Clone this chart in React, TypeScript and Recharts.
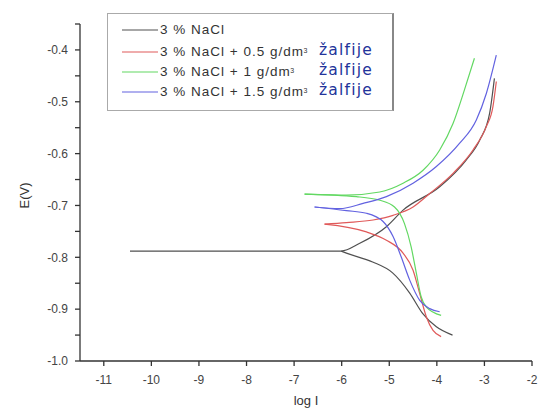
import React from 'react';
import { LineChart, Line, XAxis, YAxis } from 'recharts';

type Pt = [number, number];

// log I , E(V)
const naclAnodic: Pt[] = [
  [-10.45, -0.788], [-8.0, -0.788], [-6.01, -0.788], [-5.62, -0.773], [-5.06, -0.741],
  [-4.71, -0.709], [-3.94, -0.664], [-3.38, -0.612], [-3.1, -0.574], [-2.89, -0.522], [-2.79, -0.455],
];
const naclCathodic: Pt[] = [
  [-6.01, -0.788], [-5.9, -0.792], [-5.35, -0.809], [-4.93, -0.83], [-4.57, -0.869],
  [-4.3, -0.908], [-4.01, -0.934], [-3.67, -0.95],
];
const sage05Anodic: Pt[] = [
  [-6.36, -0.736], [-5.9, -0.733], [-5.34, -0.728], [-4.92, -0.719], [-4.5, -0.703], [-4.15, -0.677],
  [-3.66, -0.638], [-3.24, -0.593], [-2.96, -0.548], [-2.82, -0.509], [-2.75, -0.461],
];
const sage05Cathodic: Pt[] = [
  [-6.36, -0.736], [-5.48, -0.751], [-5.06, -0.767], [-4.71, -0.792], [-4.5, -0.825],
  [-4.36, -0.87], [-4.22, -0.915], [-4.08, -0.941], [-3.91, -0.953],
];
const sage1Anodic: Pt[] = [
  [-6.78, -0.678], [-5.9, -0.68], [-5.2, -0.674], [-4.71, -0.657], [-4.29, -0.632],
  [-3.94, -0.593], [-3.66, -0.542], [-3.42, -0.477], [-3.21, -0.416],
];
const sage1Cathodic: Pt[] = [
  [-6.78, -0.678], [-5.69, -0.683], [-5.2, -0.69], [-4.89, -0.703], [-4.68, -0.735],
  [-4.54, -0.78], [-4.43, -0.831], [-4.33, -0.876], [-4.22, -0.896], [-3.91, -0.912],
];
const sage15Anodic: Pt[] = [
  [-6.57, -0.703], [-6.04, -0.706], [-5.55, -0.696], [-5.06, -0.683], [-4.5, -0.657],
  [-4.01, -0.625], [-3.52, -0.58], [-3.17, -0.535], [-2.96, -0.484], [-2.75, -0.41],
];
const sage15Cathodic: Pt[] = [
  [-6.57, -0.703], [-5.9, -0.71], [-5.48, -0.715], [-5.13, -0.731], [-4.92, -0.76],
  [-4.75, -0.799], [-4.57, -0.844], [-4.36, -0.883], [-4.15, -0.899], [-3.94, -0.905],
];

const xTicks = [-11, -10.5, -10, -9.5, -9, -8.5, -8, -7.5, -7, -6.5, -6, -5.5, -5, -4.5, -4, -3.5, -3, -2.5, -2];
const yTicks = [-1.0, -0.95, -0.9, -0.85, -0.8, -0.75, -0.7, -0.65, -0.6, -0.55, -0.5, -0.45, -0.4, -0.35];

const legendLabels = ['3 % NaCl', '3 % NaCl + 0.5 g/dm', '3 % NaCl + 1 g/dm', '3 % NaCl + 1.5 g/dm'];
const legendSup = ['', '3', '3', '3'];
const legendSuffix = ['', 'žalfije', 'žalfije', 'žalfije'];
const colors = ['#505050', '#e05a5a', '#62d862', '#6262e0'];

const branches: { pts: Pt[]; color: string }[] = [
  { pts: naclAnodic, color: colors[0] },
  { pts: naclCathodic, color: colors[0] },
  { pts: sage05Anodic, color: colors[1] },
  { pts: sage05Cathodic, color: colors[1] },
  { pts: sage1Anodic, color: colors[2] },
  { pts: sage1Cathodic, color: colors[2] },
  { pts: sage15Anodic, color: colors[3] },
  { pts: sage15Cathodic, color: colors[3] },
];

const FONT = '"Liberation Sans", Arial, sans-serif';

const XTick = (props: any) => {
  const { x, y, payload } = props;
  const v = payload.value;
  if (!Number.isInteger(v)) return <g />;
  return (
    <text x={x} y={y} dy="0.71em" textAnchor="middle" fontSize={12} fill="#444" fontFamily={FONT}>
      {v}
    </text>
  );
};

const YTick = (props: any) => {
  const { x, y, payload } = props;
  const v = payload.value as number;
  if (Math.abs(Math.round(v * 10) - v * 10) > 1e-6) return <g />;
  return (
    <text x={x} y={y} dy="0.35em" textAnchor="end" fontSize={12} fill="#444" fontFamily={FONT}>
      {v.toFixed(1)}
    </text>
  );
};

const XTitle = (props: any) => {
  const vb = props.viewBox || { x: 80, y: 361, width: 452, height: 45 };
  return (
    <text x={vb.x + vb.width / 2} y={vb.y + 44} textAnchor="middle" fontSize={13} fill="#333" fontFamily={FONT}>
      log I
    </text>
  );
};

const YTitle = (props: any) => {
  const vb = props.viewBox || { x: 0, y: 24, width: 80, height: 337 };
  const cx = vb.x + 24;
  const cy = vb.y + vb.height / 2 + 3;
  return (
    <text
      x={cx}
      y={cy}
      transform={`rotate(-90 ${cx} ${cy})`}
      textAnchor="middle"
      dy="0.35em"
      fontSize={13}
      fill="#333"
      fontFamily={FONT}
    >
      E(V)
    </text>
  );
};

const rowTops = [30, 52, 72, 92];

export default function App() {
  return (
    <div style={{ position: 'absolute', left: 0, top: 0, width: 542, height: 410, background: '#fff' }}>
      <LineChart width={542} height={410} margin={{ top: 24, right: 10, bottom: 4, left: 0 }}>
        <XAxis
          type="number"
          dataKey="x"
          domain={[-11.5, -2]}
          ticks={xTicks}
          allowDataOverflow
          height={45}
          tickSize={5}
          tickMargin={9}
          tick={<XTick />}
          stroke="#333"
          strokeWidth={1.3}
          label={<XTitle />}
        />
        <YAxis
          type="number"
          dataKey="y"
          domain={[-1.0, -0.35]}
          ticks={yTicks}
          allowDataOverflow
          width={80}
          tickSize={5}
          tickMargin={7}
          tick={<YTick />}
          stroke="#333"
          strokeWidth={1.3}
          label={<YTitle />}
        />
        {branches.map((b, i) => (
          <Line
            key={i}
            data={b.pts.map(([x, y]) => ({ x, y }))}
            dataKey="y"
            type="monotone"
            stroke={b.color}
            strokeWidth={1.2}
            dot={false}
            activeDot={false}
            isAnimationActive={false}
          />
        ))}
      </LineChart>
      <div
        style={{
          position: 'absolute',
          left: 107,
          top: 13,
          width: 287,
          height: 98,
          border: '1px solid #aaa',
          borderRightColor: '#888',
          borderRightWidth: 2,
          boxSizing: 'border-box',
          background: 'transparent',
        }}
      />
      {legendLabels.map((label, i) => (
        <React.Fragment key={i}>
          <svg style={{ position: 'absolute', left: 122, top: rowTops[i] - 2 }} width={37} height={4}>
            <line x1={0} y1={2} x2={36} y2={2} stroke={colors[i]} strokeWidth={1.2} />
          </svg>
          <div
            style={{
              position: 'absolute',
              left: 160,
              top: rowTops[i] - 9,
              fontFamily: FONT,
              fontSize: 13.5,
              letterSpacing: 1.0,
              color: '#333',
              whiteSpace: 'nowrap',
              lineHeight: '18px',
            }}
          >
            {label}
            {legendSup[i] ? (
              <sup style={{ fontSize: 7, verticalAlign: 'top', position: 'relative', top: -1, letterSpacing: 0, marginLeft: -0.5 }}>
                {legendSup[i]}
              </sup>
            ) : null}
          </div>
          {legendSuffix[i] ? (
            <div
              style={{
                position: 'absolute',
                left: 319,
                top: rowTops[i] - 12,
                fontFamily: '"DejaVu Sans", sans-serif',
                fontSize: 15.5,
                letterSpacing: 1.2,
                color: '#22349a',
                whiteSpace: 'nowrap',
                lineHeight: '20px',
              }}
            >
              {legendSuffix[i]}
            </div>
          ) : null}
        </React.Fragment>
      ))}
    </div>
  );
}
